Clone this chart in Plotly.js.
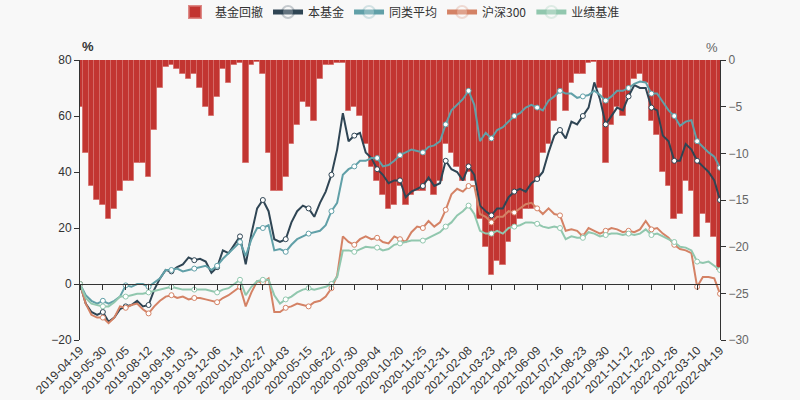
<!DOCTYPE html>
<html>
<head>
<meta charset="utf-8">
<script src="https://cdn.plot.ly/plotly-3.0.1.min.js"></script>
<style>
  html, body { margin: 0; padding: 0; background: #f8f8f8; }
  #chart { width: 800px; height: 400px; }
</style>
</head>
<body>
<div id="chart"></div>
<script>
// sample dates (roughly 4 per labelled interval)
const dates = [
  '2019-04-19', '2019-04-29', '2019-05-10', '2019-05-20',
  '2019-05-30', '2019-06-10', '2019-06-19', '2019-06-26',
  '2019-07-05', '2019-07-15', '2019-07-24', '2019-08-02',
  '2019-08-12', '2019-08-21', '2019-08-30', '2019-09-09',
  '2019-09-18', '2019-09-27', '2019-10-15', '2019-10-23',
  '2019-10-31', '2019-11-08', '2019-11-18', '2019-11-27',
  '2019-12-06', '2019-12-16', '2019-12-25', '2020-01-03',
  '2020-01-14', '2020-02-03', '2020-02-10', '2020-02-19',
  '2020-02-27', '2020-03-09', '2020-03-18', '2020-03-26',
  '2020-04-03', '2020-04-14', '2020-04-23', '2020-05-06',
  '2020-05-15', '2020-05-25', '2020-06-03', '2020-06-12',
  '2020-06-22', '2020-07-02', '2020-07-13', '2020-07-21',
  '2020-07-30', '2020-08-07', '2020-08-18', '2020-08-26',
  '2020-09-04', '2020-09-14', '2020-09-23', '2020-10-09',
  '2020-10-20', '2020-10-29', '2020-11-09', '2020-11-17',
  '2020-11-25', '2020-12-04', '2020-12-14', '2020-12-22',
  '2020-12-31', '2021-01-12', '2021-01-21', '2021-01-29',
  '2021-02-08', '2021-02-19', '2021-03-04', '2021-03-12',
  '2021-03-23', '2021-04-01', '2021-04-12', '2021-04-20',
  '2021-04-29', '2021-05-12', '2021-05-21', '2021-05-31',
  '2021-06-09', '2021-06-18', '2021-06-29', '2021-07-07',
  '2021-07-16', '2021-07-26', '2021-08-04', '2021-08-13',
  '2021-08-23', '2021-09-01', '2021-09-10', '2021-09-22',
  '2021-09-30', '2021-10-15', '2021-10-25', '2021-11-03',
  '2021-11-12', '2021-11-19', '2021-11-30', '2021-12-09',
  '2021-12-20', '2021-12-28', '2022-01-07', '2022-01-17',
  '2022-01-26', '2022-02-10', '2022-02-21', '2022-03-01',
  '2022-03-10', '2022-03-18', '2022-03-29', '2022-04-08',
  '2022-04-19'
];

const tickDates = [
  '2019-04-19', '2019-05-30', '2019-07-05', '2019-08-12', '2019-09-18',
  '2019-10-31', '2019-12-06', '2020-01-14', '2020-02-27', '2020-04-03',
  '2020-05-15', '2020-06-22', '2020-07-30', '2020-09-04', '2020-10-20',
  '2020-11-25', '2020-12-31', '2021-02-08', '2021-03-23', '2021-04-29',
  '2021-06-09', '2021-07-16', '2021-08-23', '2021-09-30', '2021-11-12',
  '2021-12-20', '2022-01-26', '2022-03-10', '2022-04-19'
];

// cumulative return, %
const fundReturn = [
  0, -7, -10, -11,  -10, -13.5, -12, -9,  -8, -7.5, -6, -8,  -7.5, -2, 2, 5,
  4.5, 6, 7, 9.5,  8.5, 9, 8, 4,  6, 12, 11, 14,  17, 7, 18, 27,
  30, 26, 16, 15,  16, 22, 26, 28,  27, 24, 29, 33,  39, 48, 61, 51,
  53, 54, 47, 45,  41, 39, 36, 37,  37, 31, 33, 34,  35, 38, 35, 36,
  44, 41, 40, 37,  42, 39, 28, 26,  24.5, 27, 27, 31,  33, 34, 33, 36,
  37.5, 40, 47, 53,  55, 52, 58, 57,  60, 63, 72, 66,  57, 60, 63, 62,
  67, 71, 70, 70,  63, 62, 53, 51,  44, 44, 50, 48,  44, 42, 40, 37,
  30
];

const peerAvg = [
  0, -4, -6, -7,  -6, -7, -6, -4.5,  -0.5, -1, 0, 0,  -1, 0.5, 2, 5,
  5, 5.5, 4.5, 5,  5.5, 6, 6.5, 5,  6.5, 9, 11, 13,  15, 10, 16, 20,
  20, 21, 12, 12.5,  11.5, 14, 16, 17,  18, 18.5, 19, 21,  26, 29, 39, 41,
  42, 44, 44, 45,  45, 42, 42.5, 44,  46, 47, 48, 47.5,  47, 49, 49.5, 51,
  57, 62, 64, 66,  69, 64, 51, 54,  52, 55, 56, 58,  60, 61, 63, 64,
  63, 62, 65.5, 67,  69, 68, 68, 66.5,  67, 67.5, 69, 67.5,  65.5, 67, 69, 69,
  70, 71.5, 72.3, 72,  68, 68, 65, 62,  60, 56.5, 58, 58.5,  51, 49, 47, 45.5,
  41.5
];

const hs300 = [
  0, -7, -11, -12,  -12, -14, -12, -8,  -8.5, -7.5, -7, -9,  -10.5, -8, -6, -4.5,
  -4, -5, -4.5, -5.5,  -5, -5, -5.5, -6,  -6.5, -5, -4, -2.5,  -1, -8, -3, 1,
  0.5, 2, -10, -10,  -8.5, -8, -7, -7.5,  -8, -6.5, -6, -4.5,  -1.5, 3, 17, 15,
  14, 16, 17, 16,  16.5, 15, 14.5, 17,  16, 15, 18.5, 20.5,  20, 22.5, 20.5, 22,
  26.5, 32, 34, 33,  35, 35, 25, 24,  22, 24, 24, 26,  25.5, 27, 28.5, 29,
  27, 25, 27, 25,  24.5, 19, 19.5, 19,  17, 20, 19, 18,  19, 20, 19.5, 18.5,
  19, 18.5, 19.5, 22.5,  19.5, 20, 18, 16.5,  14, 12.5, 12, 11,  -1, 2.5, 2.5, 2,
  -3.5
];

const benchmark = [
  0, -5, -7, -7.5,  -8, -8, -6.5, -4.5,  -4.5, -4, -3.5, -3.5,  -3, -2.5, -2, -1.5,
  -1, -1.5, -2, -2,  -2, -2, -2, -2.5,  -3, -2, -1.5, 0,  1.5, -4, -1, 1,
  1.5, 1.5, -4, -7,  -5.5, -4.5, -3, -2,  -1.5, -2, -1.5, -1,  0, 2.5, 12, 12,
  11.5, 12.5, 13.3, 13,  13, 12, 12.5, 14,  14.5, 15, 15.5, 15.5,  15.5, 16.5, 17.5, 18.5,
  20.5, 22, 24.5, 26,  28, 25, 19, 18,  18, 19, 18, 20,  20.5, 21, 22, 22,
  21.5, 20.5, 20, 20.5,  20, 16, 17, 16.5,  16.5, 18.5, 18, 17,  17.5, 18, 18, 17.5,
  18, 17.5, 18, 19.5,  17.5, 18, 17, 16,  15, 13.3, 13, 12,  8, 7.5, 8, 6.5,
  5
];

// fund drawdown, % (right axis)
const drawdown = [
  -5, -10, -13.5, -15,  -15.5, -17, -16, -14,  -13, -13, -11, -11,  -12.5, -7.5, -3, -0.8,
  -0.5, -1, -1.5, -2,  -1.5, -3, -5, -6,  -4, -1, -2.5, -0.5,  -0.3, -11, -0.5, -0.2,
  -1.5, -10, -14, -14,  -12.5, -9, -7, -4.5,  -5, -6.5, -2, -0.5,  -0.5, -0.3, -0.3, -5.5,
  -5, -6, -9, -11.5,  -13, -14.5, -16, -15.5,  -13.5, -15.5, -14.5, -14,  -14, -13, -14.5, -13,
  -9, -10, -11.5, -13,  -12, -13, -17, -20,  -23, -21.5, -22, -19.5,  -18, -17, -16, -16,
  -13, -10, -9, -6.5,  -3.5, -5.5, -2.5, -1.5,  -1.5, -0.3, -0.2, -3,  -11, -7, -5, -6,
  -4, -2, -1.5, -2.5,  -6.5, -8, -12, -13.5,  -17, -16.5, -13, -14,  -19, -16.5, -17.5, -19,
  -22.5
];

const markerOpacity = dates.map((d, i) => (i % 4 === 0 ? 1 : 0));

function lineTrace(name, values, color) {
    return {
        x: dates,
        y: values,
        name: name,
        type: 'scatter',
        mode: 'lines+markers',
        xaxis: 'x',
        yaxis: 'y2',
        line: { color: color, width: 2 },
        marker: {
            size: 5,
            color: '#ffffff',
            opacity: markerOpacity,
            line: { color: color, width: 1 }
        },
        hoverinfo: 'x+y'
    };
}

const traces = [
    {
        x: dates,
        y: drawdown,
        name: '基金回撤',
        type: 'bar',
        xaxis: 'x',
        yaxis: 'y',
        marker: { color: '#c23531', line: { width: 1, color: 'rgba(214,110,106,0.8)' } }
    },
    lineTrace('本基金', fundReturn, '#2f4554'),
    lineTrace('同类平均', peerAvg, '#61a0a8'),
    lineTrace('沪深300', hs300, '#d48265'),
    lineTrace('业绩基准', benchmark, '#91c7ae'),
    // carries the zero-line axis with ticks
    {
        x: dates,
        y: dates.map(() => null),
        type: 'scatter',
        mode: 'lines',
        xaxis: 'x2',
        yaxis: 'y2',
        showlegend: false,
        hoverinfo: 'skip'
    }
];

const layout = {
    width: 800,
    height: 400,
    paper_bgcolor: '#f8f8f8',
    plot_bgcolor: '#f8f8f8',
    font: { family: 'Liberation Sans, Noto Sans CJK SC, sans-serif', size: 12, color: '#333' },
    margin: { l: 80, r: 80, t: 60, b: 60, autoexpand: false },
    bargap: 0,
    showlegend: true,
    legend: {
        orientation: 'h',
        x: 0.5,
        xanchor: 'center',
        yref: 'container',
        y: 0.97,
        yanchor: 'middle',
        itemsizing: 'constant',
        itemwidth: 30,
        font: { size: 12, color: '#333', family: 'Noto Sans CJK SC, sans-serif' },
        bgcolor: 'rgba(0,0,0,0)'
    },
    xaxis: {
        type: 'category',
        range: [0, dates.length - 1],
        tickvals: tickDates,
        ticktext: tickDates,
        tickangle: -45,
        ticks: '',
        showline: false,
        showgrid: false,
        zeroline: false,
        tickfont: { size: 12, color: '#333' }
    },
    xaxis2: {
        type: 'category',
        overlaying: 'x',
        anchor: 'free',
        position: 0.2,
        side: 'bottom',
        range: [0, dates.length - 1],
        tickvals: tickDates,
        showticklabels: false,
        ticks: 'outside',
        ticklen: 5,
        tickcolor: '#333',
        showline: true,
        linecolor: '#333',
        linewidth: 1,
        showgrid: false,
        zeroline: false
    },
    yaxis: {
        side: 'right',
        range: [-30, 0],
        dtick: 5,
        showline: true,
        linecolor: '#333',
        ticks: 'outside',
        ticklen: 5,
        tickcolor: '#333',
        showgrid: false,
        zeroline: false,
        tickfont: { size: 12, color: '#666' }
    },
    yaxis2: {
        side: 'left',
        overlaying: 'y',
        range: [-20, 80],
        dtick: 20,
        showline: true,
        linecolor: '#333',
        ticks: 'outside',
        ticklen: 5,
        tickcolor: '#333',
        showgrid: false,
        zeroline: false,
        tickfont: { size: 12, color: '#333' }
    },
    annotations: [
        {
            text: '<b>%</b>', xref: 'paper', yref: 'paper', x: 0, y: 1,
            yshift: 23, showarrow: false, font: { size: 13, color: '#333' }
        },
        {
            text: '%', xref: 'paper', yref: 'paper', x: 1, y: 1,
            yshift: 22, showarrow: false, font: { size: 13, color: '#666' }
        }
    ]
};

Plotly.newPlot('chart', traces, layout, { displayModeBar: false });
</script>
</body>
</html>
